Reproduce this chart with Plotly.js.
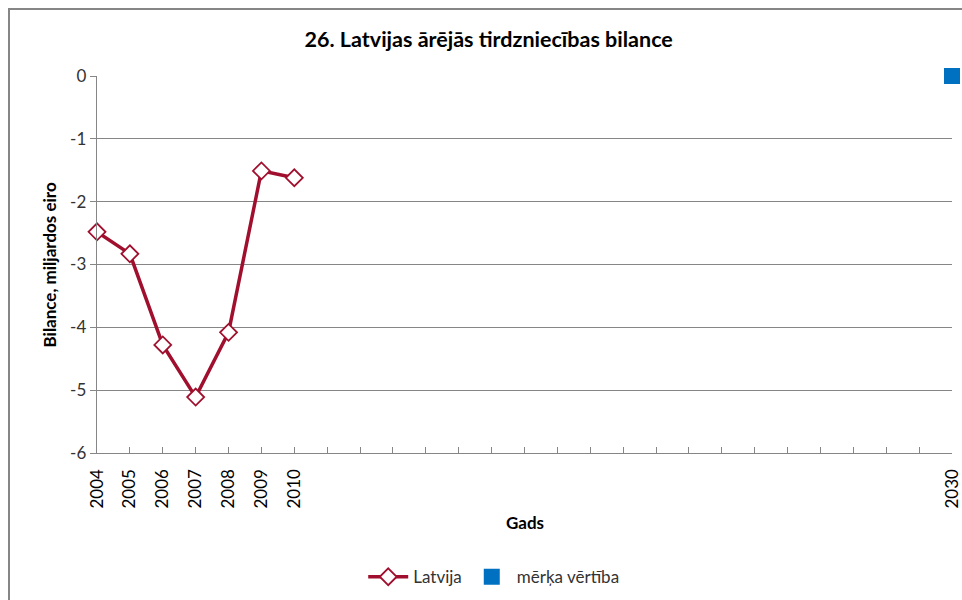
<!DOCTYPE html>
<html>
<head>
<meta charset="utf-8">
<script src="https://cdn.plot.ly/plotly-3.0.1.min.js"></script>
<style>
html,body{margin:0;padding:0;width:962px;height:600px;overflow:hidden;background:#fff;}
#frame{position:absolute;left:8px;top:8px;width:1100px;height:800px;border:2px solid #868686;box-sizing:border-box;pointer-events:none;z-index:5;}
#chart{position:absolute;left:0;top:0;width:962px;height:600px;}
</style>
</head>
<body>
<div id="chart"></div>
<div id="frame"></div>
<script>
const years = [2004, 2005, 2006, 2007, 2008, 2009, 2010];
const latvija = [-2.48, -2.83, -4.28, -5.11, -4.08, -1.51, -1.62];
const targetYears = [2030];
const targetValues = [0];
const allYears = [];
for (let y = 2004; y <= 2030; y++) allYears.push(y);
const labeledYears = [2004, 2005, 2006, 2007, 2008, 2009, 2010, 2030];
const xTickText = allYears.map(y => labeledYears.includes(y) ? String(y) : '');
const yTickVals = [-6, -5, -4, -3, -2, -1, 0];
const yTickText = ['-6', '-5', '-4', '-3', '-2', '-1', '0'];

const FONT = 'Lato, "Open Sans", sans-serif';

const traces = [
  {
    x: years, y: latvija, name: 'Latvija', type: 'scatter', mode: 'lines+markers',
    line: {color: '#A0102E', width: 3.5},
    marker: {symbol: 'diamond', size: 13, color: '#ffffff', line: {color: '#A0102E', width: 1.8}},
    cliponaxis: false
  },
  {
    x: targetYears, y: targetValues, name: 'mērķa vērtība', type: 'scatter', mode: 'markers',
    marker: {symbol: 'square', size: 16, color: '#0070C0'},
    cliponaxis: false
  }
];

const layout = {
  width: 962, height: 600,
  margin: {l: 97, r: 10, t: 76, b: 147, autoexpand: false},
  paper_bgcolor: '#ffffff', plot_bgcolor: '#ffffff',
  font: {family: FONT, color: '#333333', size: 17},
  title: {text: '<b>26. Latvijas ārējās tirdzniecības bilance</b>', x: 0.508, xanchor: 'center', y: 0.935, yanchor: 'middle',
          font: {family: FONT, size: 21.5, color: '#000000'}},
  xaxis: {
    range: [2004, 2030], tickvals: allYears, ticktext: xTickText, tickangle: -90,
    ticks: 'inside', ticklen: 6, tickcolor: '#868686', tickwidth: 1,
    ticklabelstandoff: 8,
    showline: true, linecolor: '#868686', linewidth: 1.3,
    showgrid: false, zeroline: false, fixedrange: true,
    tickfont: {family: FONT, size: 17, color: '#000000'}
  },
  yaxis: {
    range: [-6, 0], tickvals: yTickVals, ticktext: yTickText,
    ticks: 'outside', ticklen: 6, tickcolor: '#868686', tickwidth: 1,
    showline: true, linecolor: '#868686', linewidth: 1.3,
    showgrid: true, gridcolor: '#868686', gridwidth: 1,
    zeroline: false, fixedrange: true,
    tickfont: {family: FONT, size: 17, color: '#333333'}
  },
  showlegend: true,
  legend: {orientation: 'h', xref: 'paper', x: 0.464, xanchor: 'center', yref: 'container', y: 0.038, yanchor: 'middle',
           font: {family: FONT, size: 17, color: '#333333'}, itemwidth: 40, bgcolor: 'rgba(0,0,0,0)'},
  annotations: [
    {text: '<b>Bilance, miljardos eiro</b>', xref: 'paper', yref: 'paper', x: -0.055, y: 0.5,
     xanchor: 'center', yanchor: 'middle', textangle: -90, showarrow: false,
     font: {family: FONT, size: 17, color: '#000000'}},
    {text: '<b>Gads</b>', xref: 'paper', yref: 'paper', x: 0.5, y: -0.185,
     xanchor: 'center', yanchor: 'middle', showarrow: false,
     font: {family: FONT, size: 17, color: '#000000'}}
  ]
};

Plotly.newPlot('chart', traces, layout, {displayModeBar: false, staticPlot: true});
</script>
</body>
</html>
